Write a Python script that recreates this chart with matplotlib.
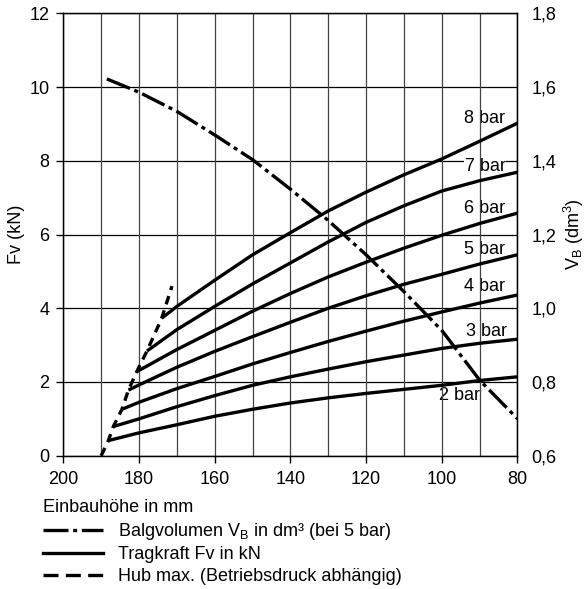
import numpy as np
import matplotlib.pyplot as plt
from matplotlib.lines import Line2D

plt.rcParams['font.family'] = ['Liberation Sans', 'DejaVu Sans']
plt.rcParams['font.size'] = 12.5

# Einbauhoehe (mm) -> Tragkraft Fv (kN), one curve per Betriebsdruck
x_2bar = [188.1, 180, 170, 160, 150, 140, 130, 120, 110, 100, 90, 80]
fv_2bar = [0.41, 0.62, 0.84, 1.07, 1.26, 1.43, 1.57, 1.69, 1.80, 1.91, 2.04, 2.14]
x_3bar = [186.8, 180, 170, 160, 150, 140, 130, 120, 110, 100, 90, 80]
fv_3bar = [0.79, 1.00, 1.33, 1.63, 1.91, 2.14, 2.35, 2.55, 2.73, 2.91, 3.05, 3.16]
x_4bar = [184.5, 180, 170, 160, 150, 140, 130, 120, 110, 100, 90, 80]
fv_4bar = [1.26, 1.45, 1.82, 2.15, 2.49, 2.80, 3.10, 3.38, 3.65, 3.90, 4.14, 4.36]
x_5bar = [182.8, 180, 170, 160, 150, 140, 130, 120, 110, 100, 90, 80]
fv_5bar = [1.78, 1.92, 2.40, 2.83, 3.23, 3.62, 4.00, 4.34, 4.65, 4.92, 5.20, 5.45]
x_6bar = [180.6, 170, 160, 150, 140, 130, 120, 110, 100, 90, 80]
fv_6bar = [2.28, 2.88, 3.40, 3.92, 4.40, 4.85, 5.25, 5.63, 5.98, 6.30, 6.58]
x_7bar = [177.9, 170, 160, 150, 140, 130, 120, 110, 100, 90, 80]
fv_7bar = [2.84, 3.42, 4.05, 4.66, 5.23, 5.80, 6.33, 6.78, 7.18, 7.46, 7.69]
x_8bar = [174.0, 170, 160, 150, 140, 130, 120, 110, 100, 90, 80]
fv_8bar = [3.73, 4.05, 4.76, 5.45, 6.05, 6.64, 7.15, 7.62, 8.05, 8.53, 9.02]

# Hub max. (Betriebsdruck abhaengig)
x_hub = [190.0, 188.1, 186.8, 184.5, 182.8, 180.6, 177.9, 174.0, 171.3]
fv_hub = [0.0, 0.41, 0.79, 1.26, 1.78, 2.28, 2.84, 3.73, 4.6]

# Balgvolumen V_B (dm3) bei 5 bar
x_vol = [188.5, 180, 170, 160, 150, 140, 130, 120, 110, 100, 90, 80]
v_vol = [1.622, 1.586, 1.534, 1.470, 1.403, 1.323, 1.238, 1.145, 1.045, 0.940, 0.805, 0.700]

curves = [(x_2bar, fv_2bar, "2 bar"), (x_3bar, fv_3bar, "3 bar"), (x_4bar, fv_4bar, "4 bar"),
          (x_5bar, fv_5bar, "5 bar"), (x_6bar, fv_6bar, "6 bar"), (x_7bar, fv_7bar, "7 bar"),
          (x_8bar, fv_8bar, "8 bar")]
# label anchor (right edge) per curve
label_x = [89.8, 82.7, 83.2, 83.2, 83.2, 83.2, 83.2]
label_y = [1.62, 3.37, 4.59, 5.58, 6.71, 7.84, 9.16]

x_ticks = [200, 180, 160, 140, 120, 100, 80]
x_grid = [200, 190, 180, 170, 160, 150, 140, 130, 120, 110, 100, 90, 80]
fv_ticks = [0, 2, 4, 6, 8, 10, 12]
v_ticks = [0.6, 0.8, 1.0, 1.2, 1.4, 1.6, 1.8]
v_ticklabels = ["0,6", "0,8", "1,0", "1,2", "1,4", "1,6", "1,8"]

lw = 2.4
dashdot = (0, (7.5, 1.4, 1.2, 1.4))
dashed = (0, (2.6, 1.9))

fig = plt.figure(figsize=(5.88, 5.89), dpi=100)
ax = fig.add_axes([0.1077, 0.2263, 0.7724, 0.7511])

ax.set_xlim(200, 80)
ax.set_ylim(0, 12)
ax.set_xticks(x_ticks)
ax.set_yticks(fv_ticks)
ax.tick_params(direction='out', length=5, width=1, pad=5, colors='black', labelsize=13)
ax.tick_params(axis='x', pad=6)
for s in ax.spines.values():
    s.set_linewidth(1.0)

# grid: horizontal under the labels, vertical above
for fv in fv_ticks:
    ax.axhline(fv, color='black', lw=0.9, zorder=0.5)
for xg in x_grid:
    ax.axvline(xg, color='#444444', lw=0.9, zorder=2)

for (xs, fs, name), lx, ly in zip(curves, label_x, label_y):
    ax.plot(xs, fs, color='black', lw=lw, solid_capstyle='butt', zorder=3)
    ax.text(lx, ly, name, ha='right', va='center', fontsize=13, zorder=1,
            bbox=dict(facecolor='white', edgecolor='none', pad=0.5))

ax.plot(x_hub, fv_hub, color='black', lw=lw, linestyle=dashed, zorder=3)
ax.set_ylabel("Fv (kN)", labelpad=3, fontsize=13)

ax2 = ax.twinx()
ax2.set_ylim(0.6, 1.8)
ax2.set_yticks(v_ticks)
ax2.set_yticklabels(v_ticklabels)
ax2.tick_params(length=0, pad=10, labelsize=13)
ax2.plot(x_vol, v_vol, color='black', lw=lw, linestyle=dashdot, zorder=3)
ax2.set_ylabel("V$_\\mathregular{B}$ (dm$^\\mathregular{3}$)", labelpad=4, fontsize=13)

handles = [Line2D([], [], color='black', lw=lw, linestyle=dashdot),
           Line2D([], [], color='black', lw=lw),
           Line2D([], [], color='black', lw=lw, linestyle=(0, (4.5, 2.2)))]
labels = ["Balgvolumen V$_\\mathregular{B}$ in dm³ (bei 5 bar)",
          "Tragkraft Fv in kN",
          "Hub max. (Betriebsdruck abhängig)"]
leg = fig.legend(handles, labels, title="Einbauhöhe in mm", loc='upper left',
                 bbox_to_anchor=(0.073, 0.152), frameon=False, handlelength=3.3,
                 handletextpad=0.85, labelspacing=0.25, borderpad=0, borderaxespad=0,
                 fontsize=13.0, title_fontsize=13.0, alignment='left')

fig.savefig("out.png", dpi=100)
